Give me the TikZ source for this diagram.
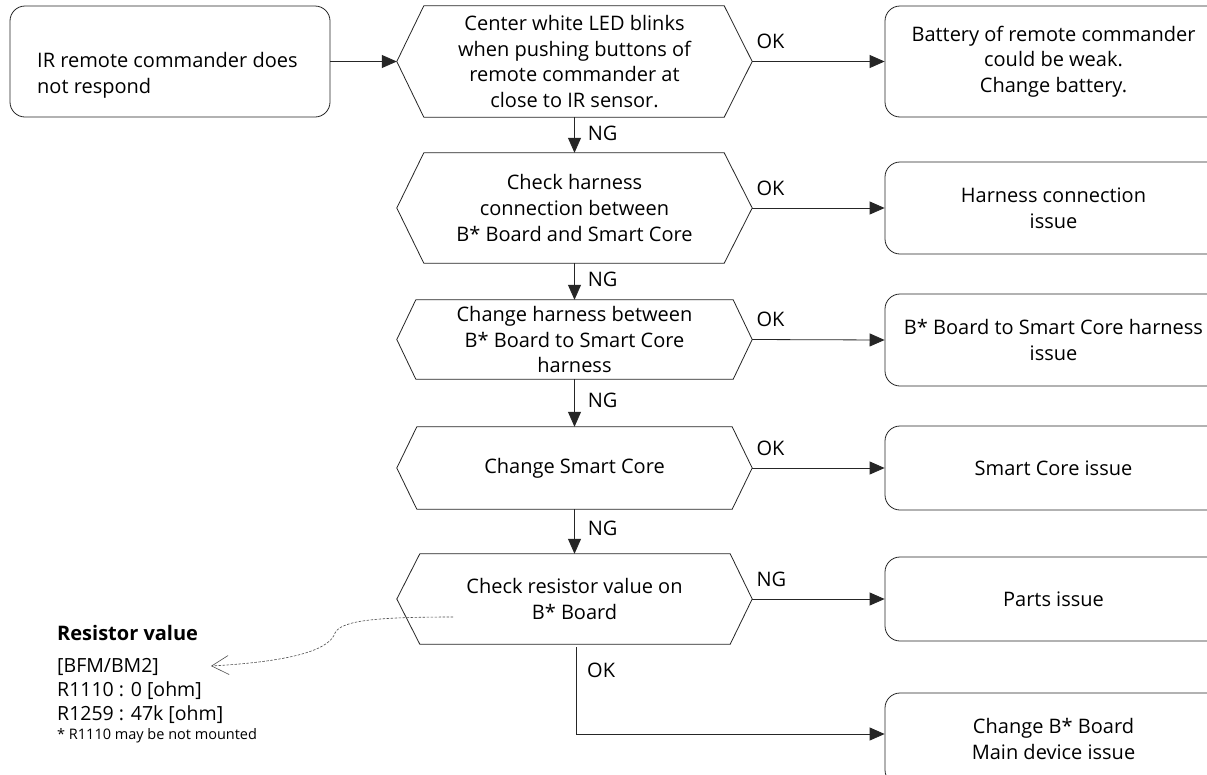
\documentclass[tikz,border=0pt]{standalone}
\usepackage{fontspec}
\setmainfont{Open Sans}
\usetikzlibrary{arrows.meta,calc}
\newcommand\decshape[3]{\draw[shapeline] (#1.west) -- ([xshift=#2]#1.north west) -- ([xshift=-#3]#1.north east) -- (#1.east) -- ([xshift=-#3]#1.south east) -- ([xshift=#2]#1.south west) -- cycle;}
\begin{document}
\begin{tikzpicture}[x=1pt,y=-1pt]
\tikzset{
  shapeline/.style={line width=0.8pt, draw=black!85},
  txt/.style={font=\fontsize{20}{25.7}\selectfont, align=center, inner sep=0pt},
  dec/.style={txt, minimum width=355pt},
  res/.style={txt, draw=black!85, line width=0.8pt, rounded corners=15pt, minimum width=337pt},
  lab/.style={font=\fontsize{20}{24}\selectfont, inner sep=0pt, anchor=west},
  arr/.style={line width=0.8pt, draw=black!85, -{Triangle[length=15pt,width=13pt]}},
  notecurve/.style={draw=black!70, line width=0.6pt, dash pattern=on 2.5pt off 1.5pt, -{Straight Barb[length=17pt,width=19pt,line width=0.6pt]}},
  annot/.style={inner sep=0pt, anchor=base west, font=\fontsize{19.5}{24}\selectfont},
}
\useasboundingbox (0,0) rectangle (1207,774);
\fill[white] (0,0) rectangle (1207,774);
\clip (0,0) rectangle (1207,774);

% start box
\node[draw=black!85, line width=0.8pt, rounded corners=15pt, minimum width=320pt, minimum height=111pt, inner sep=0pt] (s0) at (170,61.5) {};
\node[txt, align=left, anchor=west] (s0t) at (37,75) {IR remote commander does\\not respond};

% decisions
\node[dec, minimum height=111pt] (d1) at (574.5,61.5) {Center white LED blinks\\when pushing buttons of\\remote commander at\\close to IR sensor.};
\decshape{d1}{27pt}{28pt}
\node[dec, minimum height=110pt] (d2) at (574.5,208) {Check harness\\connection between\\B* Board and Smart Core};
\decshape{d2}{27pt}{28pt}
\node[dec, minimum height=79pt] (d3) at (574.5,339.5) {Change harness between\\B* Board to Smart Core\\harness};
\decshape{d3}{19pt}{19pt}
\node[dec, minimum height=82pt] (d4) at (574.5,468) {Change Smart Core};
\decshape{d4}{20pt}{20pt}
\node[dec, minimum height=90pt] (d5) at (574.5,599) {Check resistor value on\\B* Board};
\decshape{d5}{23pt}{22pt}

% results
\node[res, minimum height=111pt] (r1) at (1053.5,61.5) {Battery of remote commander\\could be weak.\\Change battery.};
\node[res, minimum height=92pt] (r2) at (1053.5,208) {Harness connection\\issue};
\node[res, minimum height=92pt] (r3) at (1053.5,340) {B* Board to Smart Core harness\\issue};
\node[res, minimum height=84pt] (r4) at (1053.5,468) {Smart Core issue};
\node[res, minimum height=84pt] (r5) at (1053.5,599) {Parts issue};
\node[res, minimum height=92pt] (r6) at (1053.5,739) {Change B* Board\\Main device issue};

% connectors
\draw[arr] (s0.east) -- (d1.west);
\draw[arr] (d1.east) -- (r1.west) node[lab, pos=0, xshift=4pt, yshift=20pt] {OK};
\draw[arr] (d2.east) -- (r2.west) node[lab, pos=0, xshift=4pt, yshift=20pt] {OK};
\draw[arr] (d3.east) -- (r3.west) node[lab, pos=0, xshift=4pt, yshift=20pt] {OK};
\draw[arr] (d4.east) -- (r4.west) node[lab, pos=0, xshift=4pt, yshift=20pt] {OK};
\draw[arr] (d5.east) -- (r5.west) node[lab, pos=0, xshift=4pt, yshift=20pt] {NG};

\draw[arr] (d1.south) -- (d2.north) node[lab, midway, xshift=13pt, yshift=1.5pt] {NG};
\draw[arr] (d2.south) -- (d3.north) node[lab, midway, xshift=13pt, yshift=2pt] {NG};
\draw[arr] (d3.south) -- (d4.north) node[lab, midway, xshift=13pt, yshift=3pt] {NG};
\draw[arr] (d4.south) -- (d5.north) node[lab, midway, xshift=13pt, yshift=3pt] {NG};

\coordinate (okstart) at ([xshift=1.5pt,yshift=-3pt]d5.south);
\draw[arr] (okstart) |- ([yshift=5pt]r6.west);
\node[lab] (oklab) at ([xshift=11pt,yshift=-23pt]okstart) {OK};

% resistor annotation
\node[annot, font=\bfseries\fontsize{20}{24}\selectfont] (rtitle) at (57,640) {Resistor value};
\node[annot] (rv1) at (57,672) {[BFM/BM2]};
\node[annot] (rv2) at (57,696) {R1110 : 0 [ohm]};
\node[annot] (rv3) at (57,720) {R1259 : 47k [ohm]};
\node[annot, font=\fontsize{14.5}{17}\selectfont] (rv4) at (57,739) {* R1110 may be not mounted};

\coordinate (cstart) at (453,617);
\coordinate (cend) at (211,666);
\draw[notecurve] (cstart) .. controls (380,617) and (341,620) .. (335,633) .. controls (330,648) and (300,661) .. (cend);
\end{tikzpicture}
\end{document}
